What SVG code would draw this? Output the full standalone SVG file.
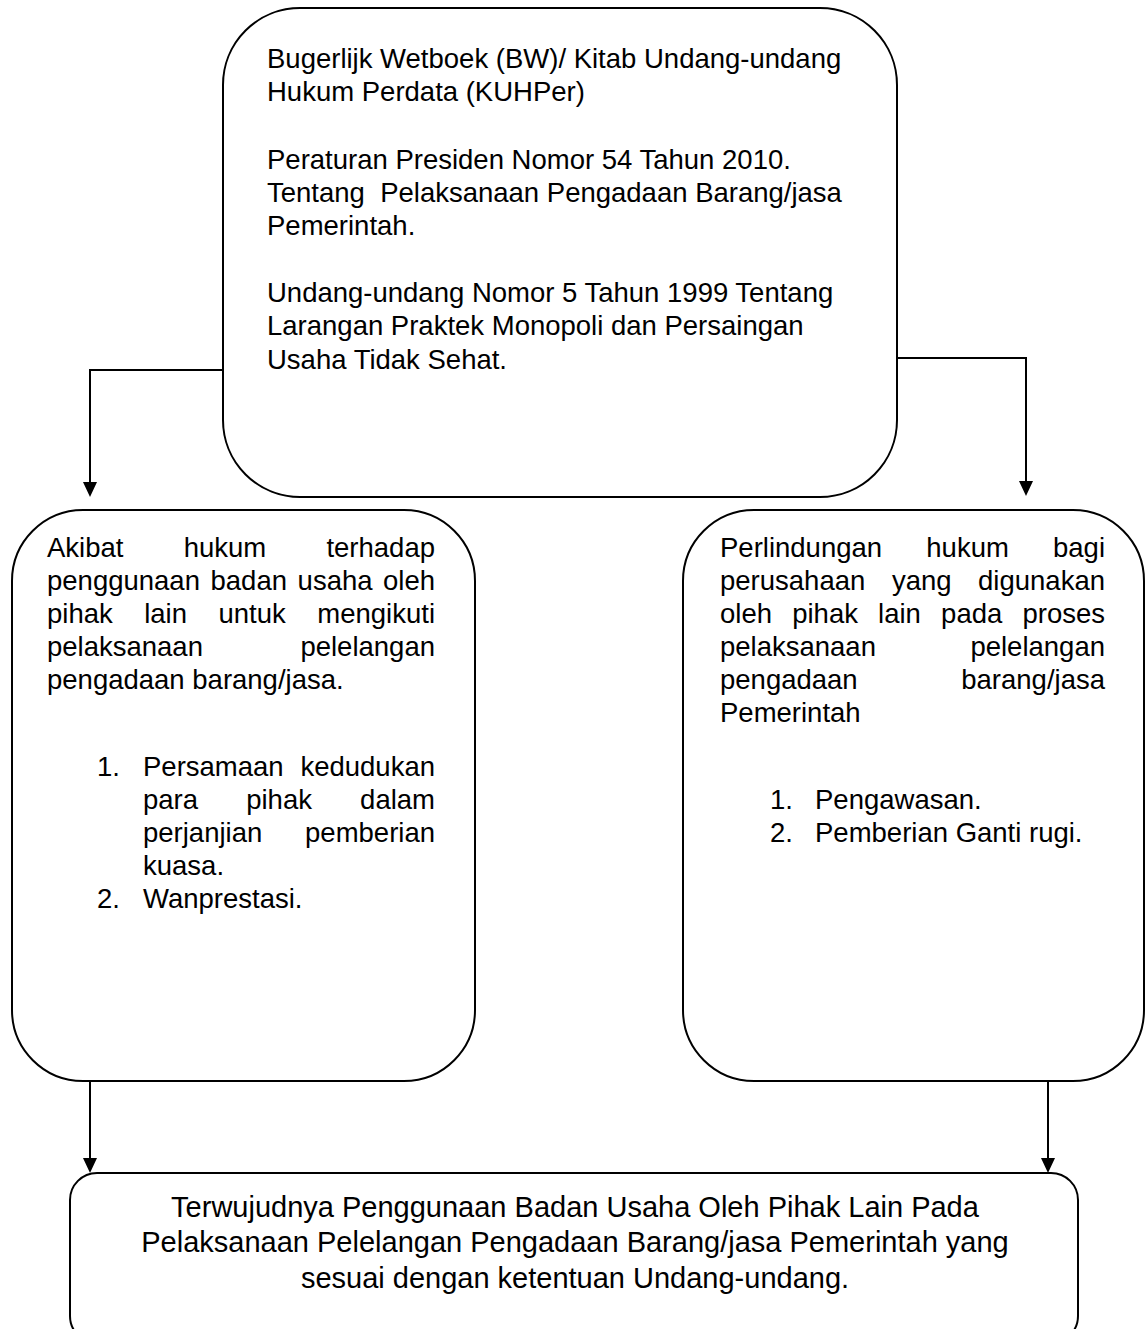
<svg xmlns="http://www.w3.org/2000/svg" width="1146" height="1329" viewBox="0 0 1146 1329">
<defs>
<style>
.box{fill:#fff;stroke:#000;stroke-width:2}
.t{font-family:"Liberation Sans",Arial,sans-serif;font-size:27.5px;fill:#000}
.b{font-family:"Liberation Sans",Arial,sans-serif;font-size:29px;fill:#000;text-anchor:middle}
.e{text-anchor:end}
.c{fill:none;stroke:#000;stroke-width:2}
</style>
</defs>
<rect width="1146" height="1329" fill="#fff"/>
<g id="connectors">
<path class="c" d="M223,370 H90 V482"/>
<path d="M83,482 L97,482 L90,497 Z"/>
<path class="c" d="M897,358 H1026 V481"/>
<path d="M1019,481 L1033,481 L1026,496 Z"/>
<path class="c" d="M90,1081 V1158"/>
<path d="M83,1158 L97,1158 L90,1173 Z"/>
<path class="c" d="M1048,1081 V1158"/>
<path d="M1041,1158 L1055,1158 L1048,1173 Z"/>
</g>
<g id="top">
<rect class="box" x="223" y="8" width="674" height="489" rx="77" ry="77"/>
<text class="t" x="267" y="68">Bugerlijk Wetboek (BW)/ Kitab Undang-undang</text>
<text class="t" x="267" y="101">Hukum Perdata (KUHPer)</text>
<text class="t" x="267" y="169">Peraturan Presiden Nomor 54 Tahun 2010.</text>
<text class="t" x="267" y="202" xml:space="preserve">Tentang  Pelaksanaan Pengadaan Barang/jasa</text>
<text class="t" x="267" y="235">Pemerintah.</text>
<text class="t" x="267" y="302">Undang-undang Nomor 5 Tahun 1999 Tentang</text>
<text class="t" x="267" y="335">Larangan Praktek Monopoli dan Persaingan</text>
<text class="t" x="267" y="369">Usaha Tidak Sehat.</text>
</g>
<g id="left">
<rect class="box" x="12" y="510" width="463" height="571" rx="71" ry="71"/>
<text class="t" y="557"><tspan x="47">Akibat</tspan><tspan x="183.7">hukum</tspan><tspan x="435" class="e">terhadap</tspan></text>
<text class="t" y="590"><tspan x="47">penggunaan</tspan><tspan x="210.5">badan</tspan><tspan x="297.6">usaha</tspan><tspan x="435" class="e">oleh</tspan></text>
<text class="t" y="623"><tspan x="47">pihak</tspan><tspan x="144.2">lain</tspan><tspan x="218.5">untuk</tspan><tspan x="435" class="e">mengikuti</tspan></text>
<text class="t" y="656"><tspan x="47">pelaksanaan</tspan><tspan x="435" class="e">pelelangan</tspan></text>
<text class="t" x="47" y="689">pengadaan barang/jasa.</text>
<text class="t" x="97" y="776">1.</text>
<text class="t" y="776"><tspan x="143">Persamaan</tspan><tspan x="435" class="e">kedudukan</tspan></text>
<text class="t" y="809"><tspan x="143">para</tspan><tspan x="246.2">pihak</tspan><tspan x="435" class="e">dalam</tspan></text>
<text class="t" y="842"><tspan x="143">perjanjian</tspan><tspan x="435" class="e">pemberian</tspan></text>
<text class="t" x="143" y="875">kuasa.</text>
<text class="t" x="97" y="908">2.</text>
<text class="t" x="143" y="908">Wanprestasi.</text>
</g>
<g id="right">
<rect class="box" x="683" y="510" width="461" height="571" rx="71" ry="71"/>
<text class="t" y="557"><tspan x="720">Perlindungan</tspan><tspan x="926.3">hukum</tspan><tspan x="1105" class="e">bagi</tspan></text>
<text class="t" y="590"><tspan x="720">perusahaan</tspan><tspan x="891.9">yang</tspan><tspan x="1105" class="e">digunakan</tspan></text>
<text class="t" y="623"><tspan x="720">oleh</tspan><tspan x="792.2">pihak</tspan><tspan x="878.1">lain</tspan><tspan x="941.1">pada</tspan><tspan x="1105" class="e">proses</tspan></text>
<text class="t" y="656"><tspan x="720">pelaksanaan</tspan><tspan x="1105" class="e">pelelangan</tspan></text>
<text class="t" y="689"><tspan x="720">pengadaan</tspan><tspan x="1105" class="e">barang/jasa</tspan></text>
<text class="t" x="720" y="722">Pemerintah</text>
<text class="t" x="770" y="809">1.</text>
<text class="t" x="815" y="809">Pengawasan.</text>
<text class="t" x="770" y="842">2.</text>
<text class="t" x="815" y="842">Pemberian Ganti rugi.</text>
</g>
<g id="bottom">
<rect class="box" x="70" y="1173" width="1008" height="170" rx="27" ry="27"/>
<text class="b" x="575" y="1217">Terwujudnya Penggunaan Badan Usaha Oleh Pihak Lain Pada</text>
<text class="b" x="575" y="1252">Pelaksanaan Pelelangan Pengadaan Barang/jasa Pemerintah yang</text>
<text class="b" x="575" y="1288">sesuai dengan ketentuan Undang-undang.</text>
</g>
</svg>
